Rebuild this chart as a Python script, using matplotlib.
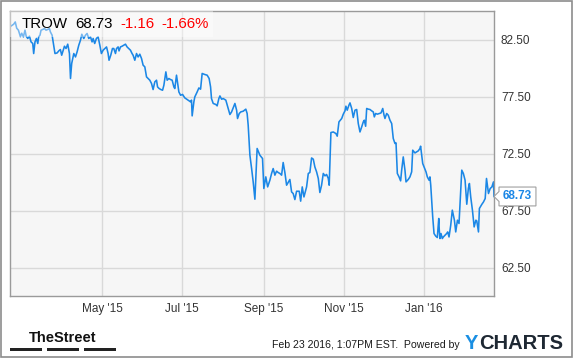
#!/usr/bin/env python3
"""
TROW one-year price chart, YCharts style.
"""
import matplotlib

matplotlib.use("Agg")
import matplotlib.pyplot as plt
import matplotlib.transforms as mtransforms
import pandas as pd
from matplotlib.patches import Polygon, Rectangle

plt.rcParams["font.family"] = ["Liberation Sans", "DejaVu Sans"]

symbol = "TROW"
change = "-1.16"
change_pct = "-1.66%"
timestamp = "Feb 23 2016, 1:07PM EST.  Powered by"

# trading history, days counted from start_date
start_date = "2015-02-20"
day_offsets = [
    0, 2.8, 4.0, 5.1, 6.4, 7.9, 8.9, 10.2, 11.4, 12.3, 13.5, 14.8, 16.0, 17.3, 18.0,
    19.0, 20.1, 21.1, 21.8, 22.8, 23.6, 24.9, 26.2, 27.4, 28.7, 30.0, 30.7, 32.0, 33.0,
    34.2, 35.8, 37.1, 38.3, 39.3, 40.1, 41.4, 42.6, 43.9, 45.2, 46.0, 46.9, 48.5, 49.8,
    51.0, 52.3, 53.6, 54.6, 56.1, 57.4, 58.6, 59.9, 61.2, 62.4,
    63.2, 64.4, 65.7, 67.0, 68.3, 69.5, 70.8, 72.1, 73.4, 74.6, 75.3, 76.6, 77.9, 78.9,
    80.2, 81.0, 82.2, 82.9, 84.0, 85.2, 86.5, 87.8, 89.0, 90.3, 91.6, 92.8, 93.6, 94.9,
    96.2, 97.4, 98.7, 100.0, 101.2, 102.5, 103.8, 105.0, 106.3, 107.6, 108.8, 110.1,
    111.4, 112.2, 113.4, 114.7, 116.0, 117.0, 118.5, 119.5, 120.8, 122.0, 123.3, 124.6,
    125.3, 126.6, 128.4, 129.7, 131.2, 132.9, 135.4, 137.3, 138.0, 138.5, 139.8, 140.5,
    142.3, 143.6, 144.9, 146.1, 148.1, 149.9, 151.4, 152.5, 153.2, 154.5, 156.5, 157.5,
    158.8, 159.6, 160.9, 162.1, 164.1, 165.9, 167.2, 168.5, 169.7, 171.0, 172.3, 173.0,
    174.3, 175.5, 177.3, 179.3, 180.3, 181.1, 182.4, 183.7, 184.9, 186.2,
    187.9, 190.0, 192.0, 193.0, 194.5, 195.9, 197.6, 198.9, 200.1, 201.4, 202.7, 203.9,
    205.2, 206.5, 207.7, 209.0, 210.3, 211.5, 212.8, 214.1, 215.3, 216.6, 217.9, 219.9,
    221.0, 222.2, 223.5, 224.2, 225.5, 226.8, 228.0, 229.3, 230.6, 231.8, 233.1, 234.4,
    235.6, 236.9, 238.2, 239.5, 240.7, 242.0, 242.7, 244.0,
    245.8, 247.8, 248.8, 250.1, 252.2, 253.4, 254.7, 255.4, 256.4, 257.7, 258.5, 259.8,
    261.0, 262.3, 263.6, 264.8, 266.1, 267.4, 268.6, 269.4, 270.4, 271.2, 272.4, 273.7,
    275.0, 276.2, 277.0, 278.0, 279.3, 280.8, 282.1, 283.4, 284.4, 285.1, 286.4, 287.6,
    288.9, 290.2, 291.4, 292.7, 293.5, 294.5, 295.8, 297.0, 297.8, 299.0, 300.3, 301.1,
    302.8, 304.1, 305.4, 306.2,
    307.9, 309.2, 310.4, 311.7, 312.2, 313.0, 313.8, 314.8, 316.3, 317.3, 318.6, 319.3,
    319.9, 320.6, 321.4, 322.4, 323.7, 324.9, 326.0, 326.4, 326.9, 327.7, 328.7, 329.5,
    330.7, 332.0, 332.8, 333.8, 335.1, 336.3, 337.9, 338.9, 340.2, 341.4, 342.7, 343.5,
    344.7, 346.0, 347.3, 348.5, 349.3, 350.3, 351.6, 352.9, 354.2, 354.9, 356.2, 356.9,
    358.8, 360.0, 361.3, 362.3, 363.8, 365.1, 366.4, 367.6, 368.0,
]
prices = [
    83.62, 83.84, 84.04, 83.49, 83.32, 82.75, 83.05, 82.73, 83.32, 82.79, 82.59, 82.79,
    82.29, 82.15, 81.27, 82.29, 82.59, 82.15, 82.73, 82.88, 83.32, 83.38, 83.46, 83.32,
    83.38, 83.46, 83.17, 82.88, 82.15, 81.27, 81.32, 81.50, 81.62, 81.12, 81.41, 81.91,
    81.71, 82.09, 81.27, 79.08, 80.39, 81.27, 80.97, 81.41, 82.00, 82.44, 82.96, 82.59,
    82.88, 83.03, 82.59, 82.73, 82.29,
    82.59, 82.15, 82.59, 82.73, 82.00, 81.27, 81.56, 81.71, 81.85, 81.27, 80.68, 81.12,
    81.71, 81.71, 81.27, 81.71, 81.85, 81.50, 81.85, 81.91, 82.00, 82.09, 81.85, 81.71,
    81.56, 81.27, 81.12, 80.68, 81.27, 80.97, 81.21, 80.83, 80.25, 80.10, 79.22, 79.08,
    78.93, 78.64, 78.11, 78.78, 78.93, 78.34, 78.20, 78.11, 78.05, 78.49, 79.66, 78.93,
    79.08, 78.99, 78.93, 78.34,
    78.20, 79.37, 77.90, 77.61, 77.68, 77.38, 77.18, 77.03, 77.18, 75.80, 77.03, 77.46,
    77.90, 78.25, 78.14, 79.52, 79.43, 79.37, 79.08, 78.34, 77.32, 76.89, 76.80, 76.68,
    77.32, 77.55, 77.26, 77.32, 77.18, 76.45, 75.92, 76.15, 76.50, 76.89, 76.30, 75.57,
    76.01, 76.15, 76.21, 76.39, 76.01, 74.98, 72.35, 71.18, 70.01, 68.49,
    72.94, 72.35, 72.06, 69.43, 70.45, 69.57, 70.16, 70.75, 71.18, 70.60, 70.95, 70.83,
    70.75, 70.60, 71.71, 70.83, 69.72, 69.96, 70.22, 69.13, 68.99, 68.46, 69.19, 69.19,
    68.32, 69.57, 68.69, 68.99, 69.57, 70.75, 70.83, 72.11, 72.00, 71.32, 70.89, 70.31,
    69.08, 69.72, 70.75, 70.54, 70.66, 70.31, 69.72, 74.34,
    74.39, 74.25, 74.02, 75.27, 75.57, 75.95, 76.24, 76.65, 76.30, 76.74, 76.94, 76.45,
    75.66, 76.30, 76.36, 75.13, 74.39, 74.83, 75.27, 75.42, 74.89, 76.45, 76.39, 76.36,
    76.24, 76.15, 75.71, 76.01, 75.95, 76.01, 76.06, 76.45, 75.86, 75.57, 76.01, 75.86,
    75.42, 75.13, 73.82, 73.38, 73.43, 70.75, 70.45, 70.10, 71.04, 72.20, 71.04, 70.01,
    70.22, 70.45, 70.89, 72.79,
    72.55, 72.64, 72.73, 72.94, 73.14, 72.35, 71.62, 71.32, 70.89, 70.45, 70.16, 70.45,
    69.72, 68.40, 66.94, 65.48, 65.25, 65.13, 66.80, 65.77, 65.04, 65.48, 65.04, 65.18,
    65.33, 65.48, 65.62, 65.18, 66.21, 67.53, 66.65, 65.62, 66.65, 66.36, 69.28, 71.04,
    70.75, 70.16, 68.05, 69.43, 69.87, 68.69, 67.53, 66.06, 66.65, 66.59, 65.62, 67.68,
    68.05, 68.25, 68.55, 70.31, 68.99, 69.43, 69.57, 70.01, 68.73,
]

tick_dates = ["2015-05-01", "2015-07-01", "2015-09-01", "2015-11-01", "2016-01-01"]
tick_labels = ["May '15", "Jul '15", "Sep '15", "Nov '15", "Jan '16"]
y_ticks = [62.5, 67.5, 72.5, 77.5, 82.5]
y_range = (60, 85)

LINE_BLUE = "#1b87e6"
RED = "#ff0000"
W, H = 575, 358


def fx(px):
    return px / W


def fy(px):
    return 1 - px / H


if __name__ == "__main__":
    dates = pd.Timestamp(start_date) + pd.to_timedelta(day_offsets, unit="D")

    fig = plt.figure(figsize=(W / 100, H / 100), dpi=100)
    fig.patch.set_facecolor("white")
    ax = fig.add_axes([fx(10), fy(296), 484 / W, 285 / H])
    ax.set_facecolor("#f6f6f6")

    ax.plot(dates, prices, color=LINE_BLUE, lw=1.15, zorder=2)

    ax.set_xlim(dates[0], dates[-1])
    ax.set_ylim(*y_range)
    ax.yaxis.tick_right()
    ax.set_yticks(y_ticks)
    ax.set_yticklabels(["{:.2f}".format(v) for v in y_ticks])
    ax.set_xticks(pd.to_datetime(tick_dates))
    ax.set_xticklabels(tick_labels)
    ax.tick_params(length=0, labelsize=8.5, colors="#333333")
    ax.tick_params(axis="y", pad=5)
    ax.tick_params(axis="x", pad=5)
    ax.grid(True, color="#d9d9d9", lw=1)
    ax.set_axisbelow(True)
    for s in ax.spines.values():
        s.set_color("#9a9a9a")
        s.set_linewidth(1)

    # translucent header panel over the top-left corner
    ax.add_patch(Rectangle((0, 1 - 26 / 285), 203 / 484, 26 / 285,
                           transform=ax.transAxes, fc="white", ec="none",
                           alpha=0.4, zorder=3))
    base = fy(28.5)
    fig.text(fx(22), base, symbol, fontsize=10.8, va="baseline", color="black")
    fig.text(fx(75), base, "{:.2f}".format(prices[-1]), fontsize=10.8,
             va="baseline", color="black")
    fig.text(fx(120), base, change, fontsize=10.8, va="baseline", color=RED)
    fig.text(fx(161), base, change_pct, fontsize=10.8, va="baseline", color=RED)

    # last-price tag pinned to the right edge
    tag_trans = mtransforms.Affine2D().scale(fig.dpi / 72) + \
        mtransforms.ScaledTranslation(1, prices[-1], ax.get_yaxis_transform())
    tag = Polygon([(0, 0), (3.6, 3.6), (3.6, 6.8), (30.2, 6.8), (30.2, -6.8),
                   (3.6, -6.8), (3.6, -3.6)], closed=True, transform=tag_trans,
                  fc="white", ec="#a0a0a0", lw=0.8, clip_on=False, zorder=5)
    fig.add_artist(tag)
    fig.text(16.9, 0, "{:.2f}".format(prices[-1]), transform=tag_trans,
             ha="center", va="center", fontsize=8.5, fontweight="bold",
             color=LINE_BLUE, zorder=6)

    # footer
    fig.text(fx(63), fy(341.7), "TheStreet", ha="center", va="baseline",
             fontsize=10.5, fontweight="bold", color="#111111")
    for x0, x1 in [(10, 42), (47, 79), (84, 116)]:
        fig.add_artist(Rectangle((fx(x0), fy(350.7)), (x1 - x0) / W, 3 / H,
                                 transform=fig.transFigure, fc="#222222", ec="none"))
    fig.text(fx(459.5), fy(348.3), timestamp, ha="right", va="baseline",
             fontsize=7.6, color="#1a1a1a")

    # logo: blue Y followed directly by dark CHARTS
    logo_y = fig.text(fx(465), fy(349), "Y", ha="left", va="baseline",
                      fontsize=14.5, fontweight="bold", color="#1a8fe3")
    renderer = fig.canvas.get_renderer()
    y_box = logo_y.get_window_extent(renderer)
    fig.text(y_box.x1 / (W) + 0.5 / W, fy(349), "CHARTS", ha="left", va="baseline",
             fontsize=14.5, fontweight="bold", color="#1e2833")

    # outer frame
    fig.add_artist(Rectangle((fx(1), fy(357)), 571 / W, 356 / H,
                             transform=fig.transFigure, fill=False,
                             ec="#8c8c8c", lw=1.2))

    fig.savefig("out.png", dpi=100)
